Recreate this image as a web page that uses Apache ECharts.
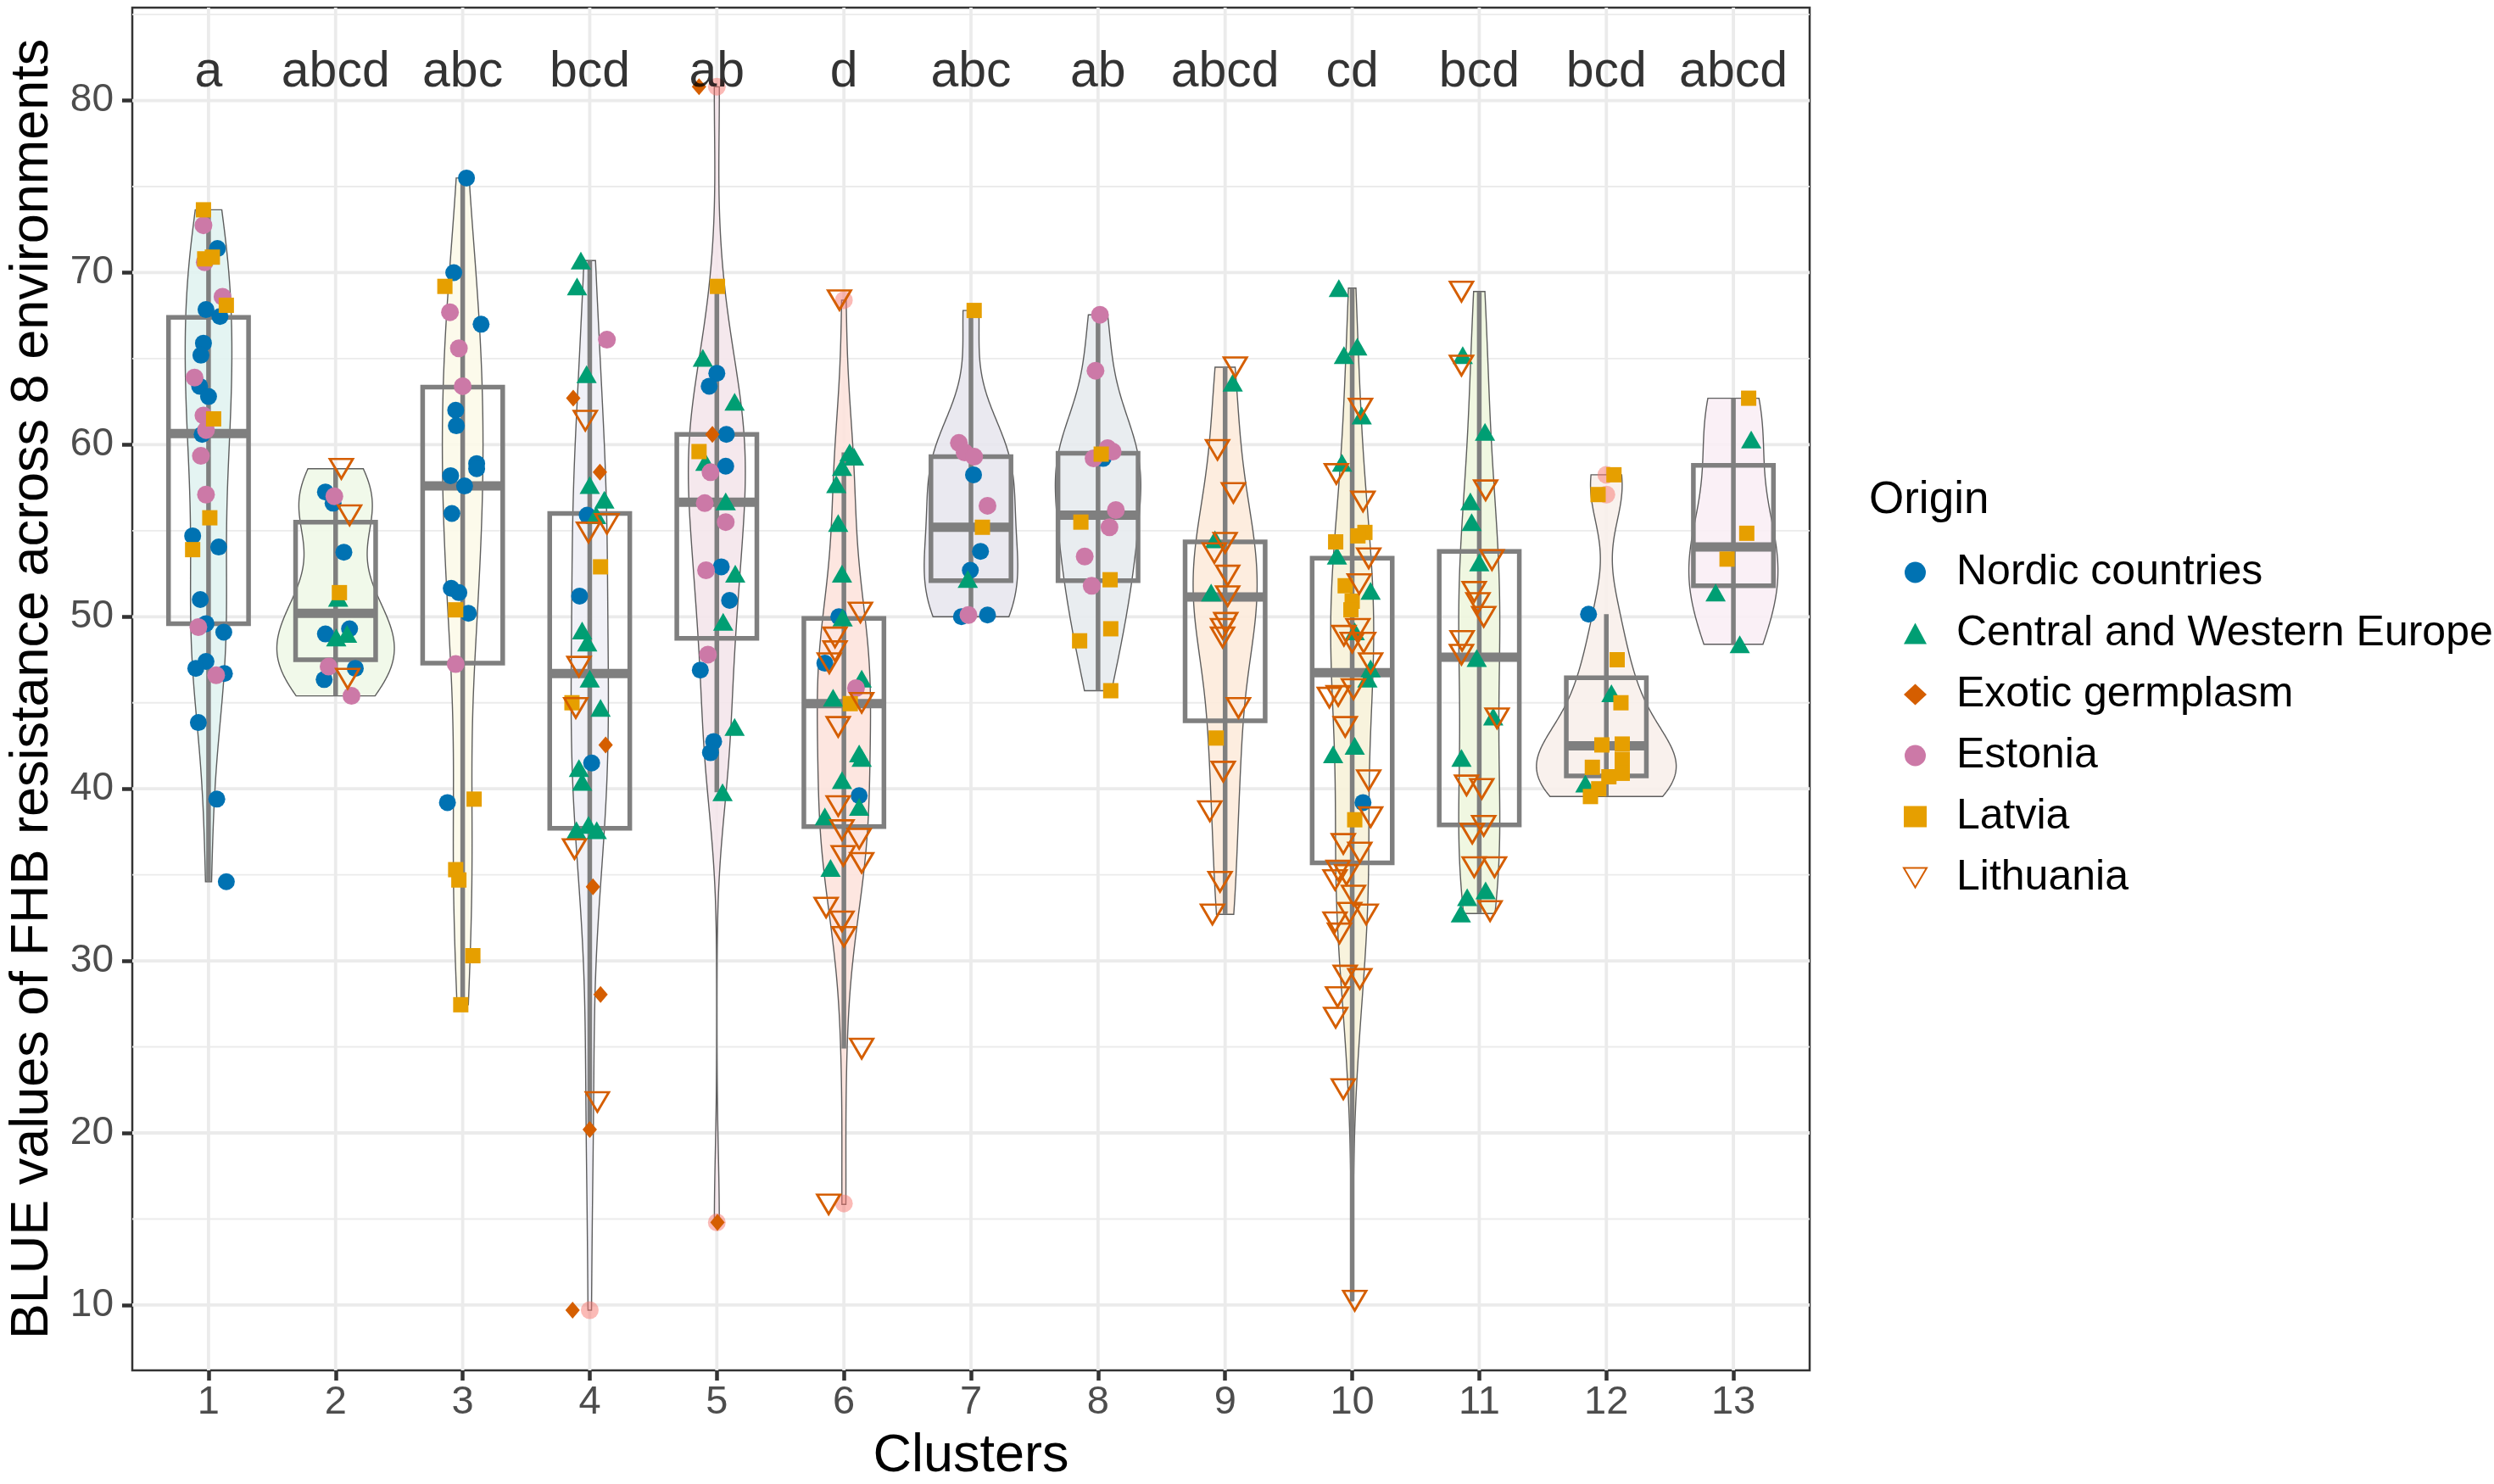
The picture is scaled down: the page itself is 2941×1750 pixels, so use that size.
<!DOCTYPE html>
<html>
<head>
<meta charset="utf-8">
<title>BLUE values of FHB resistance across 8 environments</title>
<script src="https://cdn.jsdelivr.net/npm/echarts@6.0.0/dist/echarts.min.js"></script>
<style>
html, body { margin: 0; padding: 0; background: #fff; }
#chart { width: 2941px; height: 1750px; }
</style>
</head>
<body>
<div id="chart"></div>
<script>
// ---- data ----
var clusters = [1, 2, 3, 4, 5, 6, 7, 8, 9, 10, 11, 12, 13];
var letters = ['a', 'abcd', 'abc', 'bcd', 'ab', 'd', 'abc', 'ab', 'abcd', 'cd', 'bcd', 'bcd', 'abcd'];
var yTicks = [10, 20, 30, 40, 50, 60, 70, 80];
var yMinor = [15, 25, 35, 45, 55, 65, 75, 85];
var originNames = ['Nordic countries', 'Central and Western Europe', 'Exotic germplasm', 'Estonia', 'Latvia', 'Lithuania'];

// [min, q1, median, q3, max] of each box (whisker ends)
var boxStats = [
    [34.6, 49.6, 60.65, 67.4, 73.65],
    [45.4, 47.5, 50.2, 55.5, 58.6],
    [27.45, 47.3, 57.6, 63.35, 75.5],
    [20.2, 37.7, 46.7, 56.0, 70.7],
    [39.8, 48.75, 56.65, 60.6, 69.2],
    [24.9, 37.8, 44.95, 49.9, 59.55],
    [50.0, 52.1, 55.2, 59.3, 67.8],
    [45.7, 52.1, 55.9, 59.5, 67.55],
    [32.7, 43.95, 51.15, 54.35, 64.5],
    [10.25, 35.7, 46.75, 53.4, 69.1],
    [32.75, 37.9, 47.65, 53.8, 68.9],
    [39.55, 40.75, 42.5, 46.45, 50.15],
    [48.4, 51.8, 54.05, 58.8, 62.7]
];
// boxplot outliers [cluster, value]
var outliers = [[4, 9.7], [5, 80.8], [5, 14.8], [6, 68.4], [6, 15.9], [12, 58.25], [12, 57.1]];

// points: [cluster, value, horizontal jitter]
var nordic = [
    [1, 71.4, 0.07], [1, 67.85, -0.02], [1, 67.45, 0.09], [1, 65.9, -0.04], [1, 65.2, -0.06], [1, 63.4, -0.07],
    [1, 62.8, 0], [1, 60.6, -0.05], [1, 54.7, -0.125], [1, 54.05, 0.08], [1, 51.0, -0.065], [1, 49.6, -0.02],
    [1, 49.1, 0.12], [1, 47.4, -0.02], [1, 47.0, -0.1], [1, 46.7, 0.125], [1, 43.85, -0.08], [1, 39.4, 0.065], [1, 34.6, 0.14],
    [2, 57.25, -0.08], [2, 56.6, -0.02], [2, 53.75, 0.065], [2, 49.0, -0.08], [2, 49.3, 0.11], [2, 47.0, 0.155], [2, 46.35, -0.09],
    [3, 75.5, 0.03], [3, 70.0, -0.07], [3, 67.0, 0.145], [3, 62.0, -0.055], [3, 61.1, -0.05], [3, 58.9, 0.11], [3, 58.6, 0.11],
    [3, 58.2, -0.095], [3, 57.6, 0.015], [3, 56.0, -0.085], [3, 51.65, -0.09], [3, 51.4, -0.03], [3, 50.2, 0.045], [3, 39.2, -0.12],
    [4, 55.9, -0.02], [4, 51.2, -0.08], [4, 41.5, 0.015],
    [5, 64.15, 0], [5, 63.4, -0.06], [5, 60.6, 0.075], [5, 58.75, 0.07], [5, 52.9, 0.035], [5, 50.95, 0.1], [5, 46.9, -0.13],
    [5, 42.75, -0.025], [5, 42.1, -0.05],
    [6, 50.0, -0.04], [6, 47.3, -0.15], [6, 39.6, 0.12],
    [7, 58.25, 0.02], [7, 53.8, 0.075], [7, 52.7, -0.005], [7, 50.0, -0.075], [7, 50.1, 0.13],
    [8, 59.2, 0.04], [10, 39.2, 0.085], [12, 50.15, -0.14]
];
var centralWestern = [
    [2, 51.1, 0.02], [2, 48.8, 0.005], [2, 49.0, 0.09],
    [4, 70.7, -0.07], [4, 69.2, -0.1], [4, 64.1, -0.025], [4, 57.65, 0], [4, 56.8, 0.115], [4, 55.9, 0.05], [4, 49.2, -0.06],
    [4, 48.5, -0.02], [4, 46.4, 0], [4, 44.7, 0.085], [4, 41.2, -0.085], [4, 40.4, -0.06], [4, 37.6, -0.105], [4, 37.9, -0.01], [4, 37.6, 0.055],
    [5, 65.05, -0.11], [5, 62.5, 0.14], [5, 59.0, -0.09], [5, 56.7, 0.07], [5, 52.5, 0.145], [5, 49.7, 0.05], [5, 43.6, 0.14], [5, 39.8, 0.045],
    [6, 59.55, 0.045], [6, 59.3, 0.08], [6, 58.7, -0.015], [6, 57.7, -0.06], [6, 55.45, -0.045], [6, 52.5, -0.015], [6, 49.95, -0.01],
    [6, 46.4, 0.14], [6, 45.3, -0.085], [6, 42.05, 0.12], [6, 41.8, 0.14], [6, 40.5, -0.015], [6, 38.95, 0.12], [6, 38.4, -0.15], [6, 35.4, -0.105],
    [7, 52.2, -0.025],
    [9, 63.6, 0.06], [9, 54.5, -0.08], [9, 51.4, -0.11],
    [10, 69.1, -0.105], [10, 65.7, 0.04], [10, 65.2, -0.065], [10, 61.7, 0.075], [10, 58.95, -0.08], [10, 53.55, -0.12], [10, 51.5, 0.145],
    [10, 49.15, 0.02], [10, 47.0, 0.145], [10, 46.4, 0.12], [10, 42.0, -0.15], [10, 42.5, 0.02],
    [11, 65.2, -0.13], [11, 60.75, 0.045], [11, 56.7, -0.07], [11, 55.5, -0.06], [11, 53.15, 0], [11, 47.6, -0.02], [11, 44.2, 0.11],
    [11, 41.8, -0.14], [11, 33.7, -0.095], [11, 34.1, 0.05], [11, 32.75, -0.145],
    [12, 45.55, 0.04], [12, 40.3, -0.165],
    [13, 60.3, 0.14], [13, 51.4, -0.14], [13, 48.4, 0.05]
];
var exotic = [
    [4, 62.7, -0.13], [4, 58.4, 0.08], [4, 42.55, 0.125], [4, 34.3, 0.025], [4, 28.05, 0.085], [4, 20.2, 0], [4, 9.7, -0.135],
    [5, 80.8, -0.14], [5, 60.6, -0.035], [5, 14.8, 0.005]
];
var estonia = [
    [1, 72.75, -0.04], [1, 70.6, -0.03], [1, 68.6, 0.11], [1, 63.9, -0.11], [1, 61.7, -0.04], [1, 60.85, -0.02], [1, 59.35, -0.06],
    [1, 57.1, -0.02], [1, 49.4, -0.08], [1, 46.6, 0.06],
    [2, 57.0, -0.01], [2, 47.1, -0.055], [2, 45.4, 0.125],
    [3, 67.7, -0.1], [3, 65.6, -0.03], [3, 63.4, 0], [3, 47.25, -0.055],
    [4, 66.1, 0.135],
    [5, 58.4, -0.05], [5, 56.6, -0.095], [5, 55.5, 0.07], [5, 52.7, -0.085], [5, 47.8, -0.07],
    [6, 45.85, 0.095],
    [7, 60.1, -0.095], [7, 59.55, -0.05], [7, 59.3, 0.025], [7, 56.45, 0.13], [7, 50.1, -0.02],
    [8, 67.55, 0.015], [8, 64.3, -0.02], [8, 59.8, 0.075], [8, 59.6, 0.115], [8, 59.2, -0.035], [8, 56.2, 0.14], [8, 55.2, 0.09],
    [8, 53.5, -0.105], [8, 51.8, -0.05]
];
var latvia = [
    [1, 73.65, -0.04], [1, 70.8, -0.03], [1, 70.9, 0.03], [1, 68.1, 0.14], [1, 61.5, 0.04], [1, 55.75, 0.01], [1, 53.9, -0.125],
    [2, 51.4, 0.03],
    [3, 69.2, -0.14], [3, 50.4, -0.055], [3, 39.4, 0.09], [3, 35.3, -0.055], [3, 34.7, -0.03], [3, 30.3, 0.08], [3, 27.45, -0.015],
    [4, 52.9, 0.085], [4, 45.0, -0.14],
    [5, 69.2, 0.005], [5, 59.6, -0.14],
    [6, 44.95, 0.05],
    [7, 67.8, 0.025], [7, 55.2, 0.09],
    [8, 59.45, 0.025], [8, 55.5, -0.135], [8, 52.15, 0.095], [8, 49.3, 0.1], [8, 48.6, -0.145], [8, 45.7, 0.1],
    [9, 42.95, -0.07],
    [10, 54.9, 0.1], [10, 54.7, 0.045], [10, 54.35, -0.13], [10, 51.8, -0.055], [10, 50.9, 0], [10, 50.4, -0.01], [10, 38.2, 0.02],
    [12, 58.25, 0.06], [12, 57.1, -0.065], [12, 47.5, 0.085], [12, 45.0, 0.115], [12, 42.55, -0.035], [12, 42.6, 0.125], [12, 41.7, 0.125],
    [12, 41.25, -0.11], [12, 40.7, 0.02], [12, 40.9, 0.125], [12, 40.0, -0.06], [12, 39.55, -0.125],
    [13, 62.7, 0.12], [13, 54.85, 0.105], [13, 53.35, -0.05]
];
var lithuania = [
    [2, 58.6, 0.045], [2, 55.9, 0.11], [2, 46.4, 0.095],
    [4, 61.4, -0.035], [4, 54.9, -0.01], [4, 55.4, 0.135], [4, 47.1, -0.085], [4, 44.7, -0.11], [4, 36.5, -0.12], [4, 21.8, 0.06],
    [6, 68.4, -0.035], [6, 50.25, 0.13], [6, 48.8, -0.07], [6, 48.0, -0.07], [6, 47.3, -0.115], [6, 45.0, 0.14], [6, 43.6, -0.045],
    [6, 39.0, -0.045], [6, 37.6, -0.015], [6, 37.1, 0.12], [6, 36.1, -0.005], [6, 35.7, 0.14], [6, 33.1, -0.14], [6, 32.3, -0.015],
    [6, 31.4, 0], [6, 24.9, 0.14], [6, 15.85, -0.12],
    [9, 64.5, 0.08], [9, 59.7, -0.06], [9, 57.2, 0.065], [9, 54.3, 0], [9, 53.7, -0.085], [9, 52.4, 0.02], [9, 51.2, 0.02],
    [9, 49.65, 0.005], [9, 49.3, -0.02], [9, 48.8, -0.02], [9, 44.7, 0.105], [9, 41.0, -0.015], [9, 38.7, -0.12], [9, 34.6, -0.04], [9, 32.7, -0.1],
    [10, 62.1, 0.065], [10, 58.3, -0.125], [10, 56.7, 0.085], [10, 53.4, 0.13], [10, 51.9, 0.055], [10, 48.9, -0.065], [10, 49.3, 0.045],
    [10, 48.5, 0], [10, 48.5, 0.09], [10, 47.3, 0.145], [10, 45.3, -0.18], [10, 45.4, -0.11], [10, 45.8, 0.01], [10, 43.6, -0.055],
    [10, 40.5, 0.13], [10, 38.35, 0.145], [10, 36.8, -0.07], [10, 36.3, 0.06], [10, 35.25, -0.11], [10, 34.7, -0.135], [10, 35.0, -0.045],
    [10, 33.8, 0.01], [10, 32.8, -0.02], [10, 32.7, 0.11], [10, 32.25, -0.135], [10, 31.6, -0.1], [10, 29.15, -0.055], [10, 28.95, 0.06],
    [10, 27.9, -0.115], [10, 26.7, -0.13], [10, 22.55, -0.07], [10, 10.25, 0.02],
    [11, 68.9, -0.14], [11, 64.6, -0.14], [11, 57.35, 0.05], [11, 53.3, 0.1], [11, 51.45, -0.04], [11, 50.8, -0.01], [11, 50.0, 0.035],
    [11, 48.6, -0.135], [11, 47.8, -0.14], [11, 44.1, 0.14], [11, 40.2, -0.1], [11, 40.0, 0.02], [11, 37.85, 0.035], [11, 37.4, -0.055],
    [11, 35.45, -0.04], [11, 35.45, 0.12], [11, 32.9, 0.085]
];

// ---- styles ----
var FONT = '"Liberation Sans", Arial, sans-serif';
var violinColors = ['#e1f3f1', '#f0f8e8', '#fcfae9', '#efeff6', '#f4e6eb', '#fde3dd', '#e8e7ee',
    '#e7ebee', '#fdebdc', '#f7f2d9', '#eef6de', '#f8efeb', '#f9eef5'];
var BOX_GRAY = '#7f7f7f';
var boxHalf = 0.315;      // box half width, axis units
var violinMaxHalf = 0.55; // widest violin half width, axis units
var Y_MIN = 6.2, Y_MAX = 85.4, X_MIN = 0.4, X_MAX = 13.6;

var originSeries = [nordic, centralWestern, exotic, estonia, latvia, lithuania];

//R 的 bw.nrd0
function quantile(sorted, p) {
    var h = (sorted.length - 1) * p, lo = Math.floor(h), hi = Math.ceil(h);
    return sorted[lo] + (sorted[hi] - sorted[lo]) * (h - lo);
}
function bandwidth(vals) {
    var n = vals.length;
    var s = vals.slice().sort(function (a, b) { return a - b; });
    var mean = vals.reduce(function (a, v) { return a + v; }, 0) / n;
    var sd = Math.sqrt(vals.reduce(function (a, v) { return a + (v - mean) * (v - mean); }, 0) / (n - 1));
    var iqr = quantile(s, 0.75) - quantile(s, 0.25);
    var lo = Math.min(sd, iqr / 1.34);
    if (!lo) lo = sd || 1;
    return 0.9 * lo * Math.pow(n, -0.2);
}

//每个类的核密度（裁剪到数据范围）
var violinShapes = [];
var densityMax = 0;
clusters.forEach(function (k) {
    var vals = [];
    originSeries.forEach(function (arr) {
        arr.forEach(function (p) { if (p[0] === k) vals.push(p[1]); });
    });
    var bw = bandwidth(vals);
    var lo = Math.min.apply(null, vals), hi = Math.max.apply(null, vals);
    var steps = 200, shape = [];
    for (var i = 0; i <= steps; i++) {
        var y = lo + (hi - lo) * i / steps, d = 0;
        for (var j = 0; j < vals.length; j++) {
            var z = (y - vals[j]) / bw;
            d += Math.exp(-0.5 * z * z);
        }
        d = d / (vals.length * bw * Math.sqrt(2 * Math.PI));
        if (d > densityMax) densityMax = d;
        shape.push([y, d]);
    }
    violinShapes.push(shape);
});
var violinScale = violinMaxHalf / densityMax;

function toPoints(arr) {
    return arr.map(function (p) { return [p[0] + p[2], p[1]]; });
}

function renderGridY(params, api) {
    var v = api.value(1);
    var major = api.value(0) === 1;
    var a = api.coord([X_MIN, v]), b = api.coord([X_MAX, v]);
    return {
        type: 'line', shape: { x1: a[0], y1: a[1], x2: b[0], y2: b[1] },
        style: { stroke: '#ebebeb', lineWidth: major ? 3.8 : 1.9 }, silent: true
    };
}
function renderGridX(params, api) {
    var k = api.value(0);
    var a = api.coord([k, Y_MIN]), b = api.coord([k, Y_MAX]);
    return {
        type: 'line', shape: { x1: a[0], y1: a[1], x2: b[0], y2: b[1] },
        style: { stroke: '#ebebeb', lineWidth: 3.8 }, silent: true
    };
}

function renderViolin(params, api) {
    var k = api.value(0);
    var shape = violinShapes[k - 1];
    var pts = [], i;
    for (i = 0; i < shape.length; i++) pts.push(api.coord([k + shape[i][1] * violinScale, shape[i][0]]));
    for (i = shape.length - 1; i >= 0; i--) pts.push(api.coord([k - shape[i][1] * violinScale, shape[i][0]]));
    return {
        type: 'polygon', shape: { points: pts },
        style: { fill: violinColors[k - 1], opacity: 0.9, stroke: '#4d4d4d', lineWidth: 1.4 }
    };
}

function renderBox(params, api) {
    var k = api.value(0);
    var b = boxStats[k - 1];
    var top = api.coord([k, b[4]]), bot = api.coord([k, b[0]]);
    var tl = api.coord([k - boxHalf, b[3]]), br = api.coord([k + boxHalf, b[1]]);
    var ml = api.coord([k - boxHalf, b[2]]), mr = api.coord([k + boxHalf, b[2]]);
    return {
        type: 'group',
        children: [
            { type: 'line', shape: { x1: top[0], y1: top[1], x2: bot[0], y2: bot[1] },
              style: { stroke: BOX_GRAY, lineWidth: 5.5 } },
            { type: 'rect', shape: { x: tl[0], y: tl[1], width: br[0] - tl[0], height: br[1] - tl[1] },
              style: { fill: 'none', stroke: BOX_GRAY, lineWidth: 5.5 } },
            { type: 'line', shape: { x1: ml[0], y1: ml[1], x2: mr[0], y2: mr[1] },
              style: { stroke: BOX_GRAY, lineWidth: 11 } }
        ]
    };
}

var chart = echarts.init(document.getElementById('chart'), null, { renderer: 'canvas' });

var gridYData = yTicks.map(function (v) { return [1, v]; })
    .concat(yMinor.map(function (v) { return [0, v]; }));

var option = {
    backgroundColor: '#ffffff',
    animation: false,
    textStyle: { fontFamily: FONT },
    grid: {
        left: 156, top: 9, width: 1978, height: 1607,
        show: true, backgroundColor: '#ffffff', borderColor: '#333333', borderWidth: 2.5,
        containLabel: false, outerBoundsMode: 'none'
    },
    xAxis: {
        type: 'value', min: X_MIN, max: X_MAX,
        name: 'Clusters', nameLocation: 'middle', nameGap: 70,
        nameTextStyle: { fontSize: 63, color: '#000', fontFamily: FONT },
        axisLine: { show: false },
        axisTick: { show: true, length: 12, customValues: clusters, lineStyle: { color: '#333333', width: 4.5 } },
        axisLabel: { customValues: clusters, fontSize: 47, color: '#4d4d4d', margin: 15, fontFamily: FONT,
            formatter: function (v) { return String(v); } },
        splitLine: { show: false }
    },
    yAxis: {
        type: 'value', min: Y_MIN, max: Y_MAX,
        name: 'BLUE values of FHB resistance across 8 environments', nameLocation: 'middle', nameGap: 86,
        nameTextStyle: { fontSize: 63, color: '#000', fontFamily: FONT },
        axisLine: { show: false },
        axisTick: { show: true, length: 12, customValues: yTicks, lineStyle: { color: '#333333', width: 4.5 } },
        axisLabel: { customValues: yTicks, fontSize: 46, color: '#4d4d4d', margin: 22, fontFamily: FONT },
        splitLine: { show: false }
    },
    legend: {
        orient: 'vertical', left: 2239, top: 642,
        itemWidth: 27, itemHeight: 25, itemGap: 16,
        selectedMode: false,
        textStyle: { fontSize: 50, lineHeight: 56, color: '#000', fontFamily: FONT, padding: [0, 0, 0, 30] },
        data: originNames
    },
    graphic: [{
        type: 'text', left: 2204, top: 564,
        style: { text: 'Origin', fontSize: 53, fill: '#000', fontFamily: FONT }
    }],
    series: [
        { type: 'custom', name: 'gridY', renderItem: renderGridY, data: gridYData, z: 1, silent: true },
        { type: 'custom', name: 'gridX', renderItem: renderGridX, data: clusters.map(function (k) { return [k, 50]; }), z: 1, silent: true },
        { type: 'custom', name: 'violin', renderItem: renderViolin, data: clusters.map(function (k) { return [k, boxStats[k - 1][2]]; }), z: 2, silent: true },
        { type: 'custom', name: 'box', renderItem: renderBox, data: clusters.map(function (k) { return [k, boxStats[k - 1][2]]; }), z: 3, silent: true },
        { type: 'scatter', name: 'outliers', data: outliers, symbol: 'circle', symbolSize: 21, z: 4, silent: true,
          itemStyle: { color: 'rgba(248,118,109,0.5)', opacity: 1 } },
        { type: 'scatter', name: originNames[0], data: toPoints(nordic), symbol: 'circle', symbolSize: 20, z: 5,
          itemStyle: { color: '#0072B2', opacity: 1 } },
        { type: 'scatter', name: originNames[1], data: toPoints(centralWestern), symbol: 'triangle', symbolSize: [24, 21], z: 5,
          itemStyle: { color: '#009E73', opacity: 1 } },
        { type: 'scatter', name: originNames[2], data: toPoints(exotic), symbol: 'diamond', symbolSize: [17, 20], z: 5,
          itemStyle: { color: '#D55E00', opacity: 1 } },
        { type: 'scatter', name: originNames[3], data: toPoints(estonia), symbol: 'circle', symbolSize: 21, z: 5,
          itemStyle: { color: '#CC79A7', opacity: 1 } },
        { type: 'scatter', name: originNames[4], data: toPoints(latvia), symbol: 'rect', symbolSize: 18, z: 5,
          itemStyle: { color: '#E69F00', opacity: 1 } },
        { type: 'scatter', name: originNames[5], data: toPoints(lithuania), symbol: 'path://M0,0L20,0L10,17Z', symbolSize: [27, 23], z: 5,
          itemStyle: { color: 'rgba(255,255,255,0)', borderColor: '#D55E00', borderWidth: 2.8, opacity: 1 } },
        { type: 'scatter', name: 'letters', z: 6, silent: true, symbolSize: 0,
          data: letters.map(function (t, i) { return { name: t, value: [clusters[i], 81.6] }; }),
          label: { show: true, position: 'inside', formatter: '{b}', fontSize: 59, color: '#000', fontFamily: FONT } }
    ]
};
chart.setOption(option);
</script>
</body>
</html>
